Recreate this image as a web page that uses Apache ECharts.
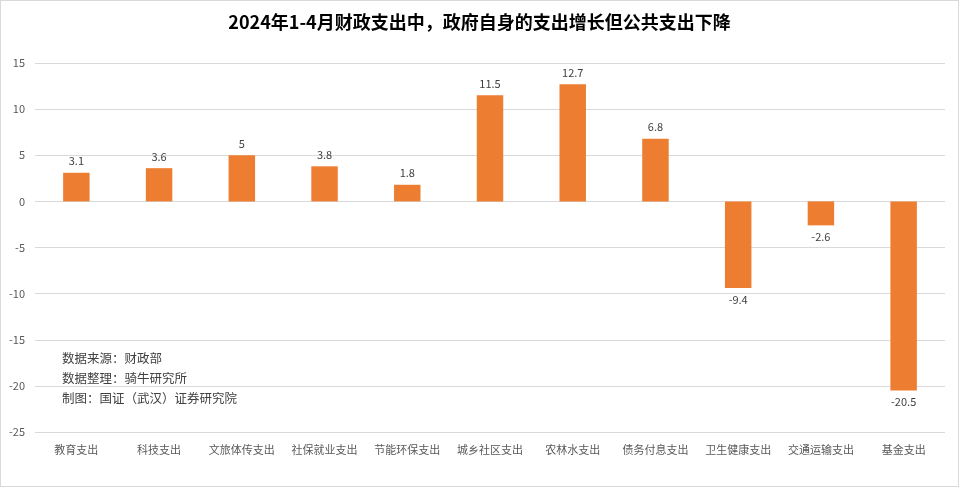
<!DOCTYPE html>
<html>
<head>
<meta charset="utf-8">
<script src="https://cdn.jsdelivr.net/npm/echarts@6/dist/echarts.min.js"></script>
<style>
html,body{margin:0;padding:0;background:#fff;}
#chart{width:957px;height:485px;border:1px solid #d9d9d9;}
</style>
</head>
<body>
<div id="chart"></div>
<script>
var titleText = '2024年1-4月财政支出中，政府自身的支出增长但公共支出下降';
var categories = ['教育支出', '科技支出', '文旅体传支出', '社保就业支出', '节能环保支出', '城乡社区支出', '农林水支出', '债务付息支出', '卫生健康支出', '交通运输支出', '基金支出'];
var growth = [3.1, 3.6, 5, 3.8, 1.8, 11.5, 12.7, 6.8, -9.4, -2.6, -20.5];
var notes = ['数据来源：财政部', '数据整理：骑牛研究所', '制图：国证（武汉）证券研究院'];

var fontFamily = '"Microsoft YaHei", "Noto Sans CJK SC", sans-serif';

var chart = echarts.init(document.getElementById('chart'));
chart.setOption({
	animation: false,
	textStyle: { fontFamily: fontFamily },
	title: {
		text: titleText,
		left: 'center',
		top: 7,
		textStyle: { fontSize: 18, fontWeight: 'bold', color: '#000', fontFamily: fontFamily }
	},
	grid: { left: 34, right: 13, top: 62, bottom: 54 },
	graphic: [{
		type: 'text',
		left: 61,
		top: 347,
		style: {
			text: notes.join('\n'),
			font: '12.5px ' + fontFamily,
			lineHeight: 20,
			fill: '#404040'
		}
	}],
	xAxis: {
		type: 'category',
		data: categories,
		position: 'bottom',
		axisLine: { show: false },
		axisTick: { show: false },
		axisLabel: {
			color: '#595959',
			fontSize: 11,
			interval: 0,
			margin: 12
		}
	},
	yAxis: {
		type: 'value',
		min: -25,
		max: 15,
		interval: 5,
		axisLine: { show: false },
		axisTick: { show: false },
		axisLabel: { color: '#595959', fontSize: 11, margin: 10 },
		splitLine: { lineStyle: { color: '#d9d9d9', width: 1 } }
	},
	series: [{
		type: 'bar',
		data: growth,
		barWidth: '32%',
		itemStyle: { color: '#ED7D31' },
		label: {
			show: true,
			position: 'outside',
			color: '#404040',
			fontSize: 11,
			distance: 6
		}
	}]
});
</script>
</body>
</html>
